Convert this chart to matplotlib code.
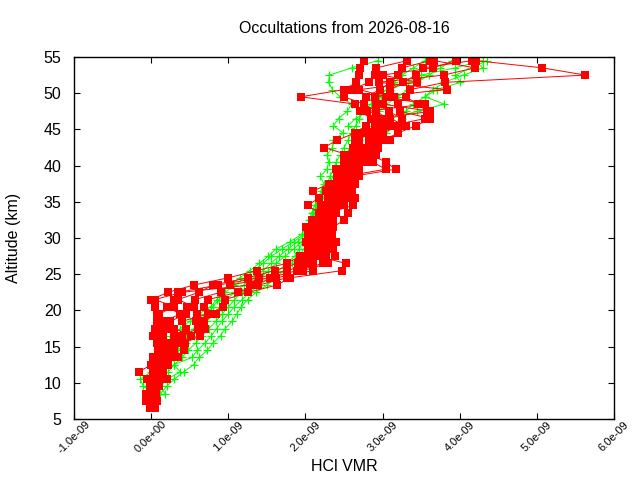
import numpy as np
import matplotlib
matplotlib.use("Agg")
import matplotlib.pyplot as plt

plt.rcParams["font.family"] = ["Liberation Sans", "DejaVu Sans"]

title = "Occultations from 2026-08-16"

# retrieval altitude grids (km)
red_altitude = [6.5, 7.5, 8.5, 9.5, 10.5, 11.5, 12.5, 13.5, 14.5, 15.5,
                16.5, 17.5, 18.5, 19.5, 20.5, 21.5, 22.5, 23.5, 24.5, 25.5,
                26.5, 27.5, 28.5, 29.5, 30.5, 31.5, 32.5, 33.5, 34.5, 35.5,
                36.5, 37.5, 38.5, 39.5, 40.5, 41.5, 42.5, 43.5, 44.5, 45.5,
                46.5, 47.5, 48.5, 49.5, 50.5, 51.5, 52.5, 53.5, 54.5]
green_altitude = red_altitude[2:]

# HCl VMR profiles in ppbv (1e-9)
red_1 = [-0.02, -0.07, -0.07, -0.02, -0.05, -0.16, 0.00, 0.02, 0.09, 0.07,
         0.02, 0.05, 0.07, 0.07, 0.05, 0.00, 0.22, 0.55, 1.00, 1.37,
         1.76, 1.93, 2.03, 2.01, 2.03, 2.01, 2.13, 2.17, 2.03, 2.17,
         2.10, 2.31, 2.41, 2.48, 2.50, 2.55, 2.24, 2.41, 2.64, 2.78,
         2.85, 2.71, 2.64, 1.94, 2.50, 2.66, 2.69, 2.71, 2.76]
red_2 = [0.03, 0.00, 0.02, 0.07, 0.05, 0.02, 0.07, 0.12, 0.21, 0.21,
         0.16, 0.12, 0.16, 0.38, 0.20, 0.29, 0.35, 0.87, 1.40, 1.76,
         2.10, 2.08, 2.17, 2.08, 2.15, 2.13, 2.24, 2.27, 2.31, 2.29,
         2.27, 2.41, 2.55, 2.55, 2.59, 2.69, 2.64, 2.64, 2.87, 3.01,
         3.06, 2.92, 2.76, 2.50, 2.59, 2.83, 2.90, 2.92, 3.32]
red_3 = [0.00, 0.02, -0.03, 0.03, 0.21, 0.12, 0.16, 0.21, 0.30, 0.35,
         0.40, 0.61, 0.58, 0.60, 0.47, 0.57, 0.90, 1.02, 1.54, 1.89,
         2.23, 2.27, 2.29, 2.22, 2.27, 2.27, 2.36, 2.36, 2.41, 2.41,
         2.36, 2.55, 2.69, 2.69, 2.73, 2.78, 2.78, 2.83, 3.01, 3.20,
         3.25, 3.08, 2.92, 2.78, 2.97, 3.10, 3.20, 3.25, 3.62]
red_4 = [0.01, -0.03, 0.00, 0.05, 0.08, 0.06, 0.10, 0.35, 0.42, 0.44,
         0.63, 0.70, 0.68, 0.84, 0.68, 0.74, 1.12, 1.39, 1.76, 1.97,
         2.29, 2.38, 2.36, 2.31, 2.34, 2.36, 2.50, 2.55, 2.50, 2.55,
         2.50, 2.64, 2.50, 3.04, 2.87, 2.92, 2.94, 3.01, 3.20, 3.43,
         3.62, 3.22, 3.20, 3.15, 3.10, 3.27, 3.43, 3.53, 4.16]
red_5 = [0.02, 0.01, 0.04, 0.00, 0.02, 0.10, 0.05, 0.15, 0.18, 0.28,
         0.30, 0.45, 0.40, 0.74, 0.93, 0.96, 1.26, 1.63, 1.80, 2.48,
         2.52, 2.15, 2.10, 2.15, 2.10, 2.20, 2.20, 2.30, 2.62, 2.64,
         2.57, 2.45, 2.60, 3.17, 3.04, 2.85, 2.85, 2.90, 2.95, 3.10,
         3.55, 3.57, 3.46, 3.30, 3.36, 3.81, 5.63, 5.07, 4.21]
red_6 = [-0.01, -0.05, -0.02, 0.04, 0.10, 0.04, 0.13, 0.08, 0.25, 0.12,
         0.10, 0.20, 0.12, 0.10, 0.30, 0.05, 0.40, 1.28, 1.62, 2.10,
         1.99, 2.20, 2.25, 2.40, 2.20, 2.05, 2.30, 2.20, 2.35, 2.45,
         2.40, 2.50, 2.45, 2.60, 2.65, 2.60, 2.70, 2.70, 2.75, 2.90,
         2.95, 3.62, 3.00, 2.90, 3.83, 2.95, 3.79, 4.20, 3.67]
red_7 = [0.05, 0.08, 0.06, 0.10, 0.03, 0.15, 0.22, 0.28, 0.12, 0.40,
         0.52, 0.30, 0.25, 0.45, 0.55, 0.35, 0.62, 0.80, 1.25, 1.60,
         1.90, 2.02, 2.12, 2.27, 2.35, 2.25, 2.08, 2.40, 2.20, 2.35,
         2.60, 2.36, 2.58, 2.40, 2.78, 2.50, 2.62, 3.10, 2.85, 3.30,
         3.10, 2.80, 3.55, 3.05, 2.70, 3.45, 3.00, 3.65, 3.95]

green_1 = [0.05, -0.10, -0.14, 0.00, 0.05, 0.12, 0.20, 0.25, 0.25, 0.38,
           0.50, 0.62, 0.77, 0.85, 0.92, 1.02, 1.15, 1.28, 1.40, 1.52,
           1.62, 1.80, 1.95, 2.02, 2.05, 2.08, 2.12, 2.17, 2.20, 2.24,
           2.19, 2.28, 2.30, 2.28, 2.35, 2.36, 2.49, 2.36, 2.43, 2.54,
           2.60, 2.45, 2.35, 2.30, 2.31, 2.60, 2.94]
green_2 = [0.10, 0.00, 0.05, 0.10, 0.18, 0.28, 0.35, 0.45, 0.55, 0.62,
           0.72, 0.82, 0.90, 0.98, 1.08, 1.20, 1.33, 1.45, 1.55, 1.66,
           1.78, 1.90, 2.00, 2.06, 2.10, 2.12, 2.15, 2.20, 2.25, 2.28,
           2.32, 2.36, 2.40, 2.45, 2.50, 2.55, 2.60, 2.65, 2.70, 2.75,
           2.85, 2.95, 3.05, 3.15, 3.25, 3.40, 3.55]
green_3 = [0.18, 0.12, 0.20, 0.38, 0.29, 0.53, 0.60, 0.70, 0.78, 0.85,
           0.92, 1.00, 1.08, 1.18, 1.28, 1.40, 1.53, 1.65, 1.76, 1.86,
           1.92, 1.97, 2.03, 2.08, 2.12, 2.15, 2.18, 2.22, 2.30, 2.35,
           2.40, 2.45, 2.52, 2.58, 2.62, 2.70, 2.75, 2.80, 2.90, 2.95,
           3.05, 3.20, 3.33, 3.45, 3.60, 3.75, 3.90]
green_4 = [0.12, 0.20, 0.30, 0.42, 0.55, 0.62, 0.73, 0.80, 0.90, 0.96,
           1.05, 1.11, 1.17, 1.25, 1.36, 1.50, 1.62, 1.72, 1.82, 1.92,
           1.98, 2.03, 2.05, 2.10, 2.08, 2.18, 2.22, 2.28, 2.34, 2.40,
           2.48, 2.55, 2.62, 2.70, 2.78, 2.85, 2.92, 3.00, 3.10, 3.45,
           3.80, 3.55, 3.70, 4.01, 3.94, 4.15, 4.35]
green_5 = [0.02, 0.05, 0.10, 0.22, 0.30, 0.40, 0.48, 0.58, 0.66, 0.75,
           0.84, 0.92, 1.00, 1.08, 1.18, 1.30, 1.42, 1.52, 1.62, 1.74,
           1.85, 1.95, 2.02, 2.05, 2.12, 2.20, 2.25, 2.32, 2.38, 2.45,
           2.52, 2.60, 2.68, 2.75, 2.82, 2.90, 3.05, 3.15, 3.25, 3.30,
           3.40, 3.55, 3.65, 3.80, 4.05, 4.30, 4.20]
green_6 = [0.00, -0.05, 0.02, 0.08, 0.15, 0.20, 0.30, 0.38, 0.45, 0.55,
           0.64, 0.70, 0.80, 0.88, 0.96, 1.08, 1.22, 1.33, 1.45, 1.56,
           1.70, 1.85, 1.98, 2.03, 2.06, 2.10, 2.14, 2.18, 2.24, 2.30,
           2.36, 2.42, 2.48, 2.52, 2.58, 2.65, 2.72, 2.55, 2.65, 2.80,
           2.95, 3.00, 3.10, 3.33, 3.50, 3.94, 4.30]

red_profiles = [red_1, red_2, red_3, red_4, red_5, red_6, red_7]
green_profiles = [green_1, green_2, green_3, green_4, green_5, green_6]

x_ticks = [-1e-9, 0.0, 1e-9, 2e-9, 3e-9, 4e-9, 5e-9, 6e-9]
y_ticks = [5, 10, 15, 20, 25, 30, 35, 40, 45, 50, 55]

fig = plt.figure(figsize=(6.4, 4.8), dpi=100)
ax = fig.add_axes([74 / 640, 61 / 480, 540 / 640, 362 / 480])

for profile in green_profiles:
    ax.plot(np.array(profile) * 1e-9, green_altitude, color="#00ff00",
            linewidth=0.7, marker="+", markersize=6, markeredgewidth=0.9)
for profile in red_profiles:
    ax.plot(np.array(profile) * 1e-9, red_altitude, color="#ff0000",
            linewidth=0.7, marker="s", markersize=6, markeredgewidth=0)

ax.set_xlim(-1e-9, 6e-9)
ax.set_ylim(5, 55)
ax.set_xticks(x_ticks)
ax.set_xticklabels([f"{v:.1e}" for v in x_ticks], rotation=45,
                   rotation_mode="anchor", ha="center", va="center")
ax.set_yticks(y_ticks)
ax.tick_params(direction="in", length=4.5, width=0.8, top=True, right=True)
ax.tick_params(axis="x", labelsize=8, pad=13)
ax.tick_params(axis="y", labelsize=11.5, pad=9)
for spine in ax.spines.values():
    spine.set_linewidth(1.0)

ax.set_title(title, fontsize=11.5, pad=17)
ax.set_xlabel("HCl VMR", fontsize=11.5, labelpad=3)
ax.set_ylabel("Altitude (km)", fontsize=11.5, labelpad=16)

fig.savefig("out.png", dpi=100)
